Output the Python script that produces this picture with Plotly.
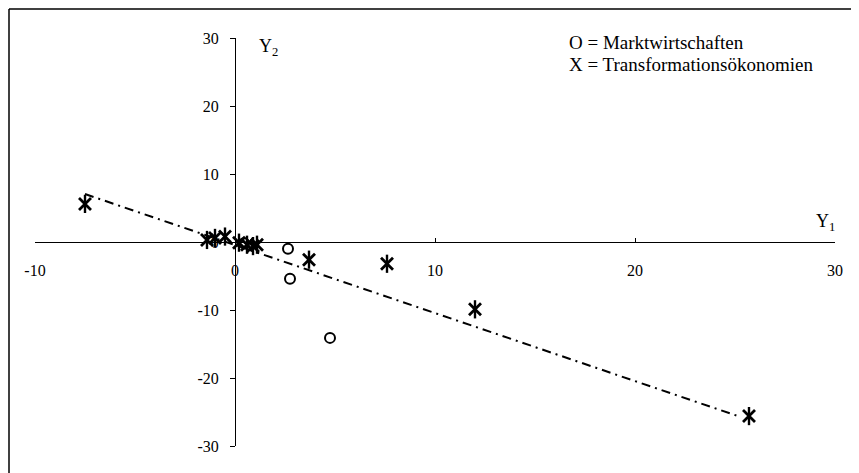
import plotly.graph_objects as go

# Data
markt_x = [0.45, 2.65, 2.75, 4.75]
markt_y = [-0.2, -1.0, -5.4, -14.1]

trans_x = [-7.5, -1.4, -1.0, -0.5, 0.2, 0.6, 0.9, 1.1, 3.7, 7.6, 12.0, 25.7]
trans_y = [5.6, 0.3, 0.6, 0.8, -0.1, -0.4, -0.6, -0.4, -2.6, -3.2, -9.9, -25.6]

trend_x = [-7.5, 25.3]
trend_intercept = -0.45
trend_slope = -1.0
trend_y = [trend_intercept + trend_slope * v for v in trend_x]

x_ticks = [-10, 0, 10, 20, 30]
y_ticks = [-30, -20, -10, 0, 10, 20, 30]

legend_lines = ["O = Marktwirtschaften", "X = Transformationsökonomien"]

FONT = "Liberation Serif"

fig = go.Figure()

fig.add_trace(go.Scatter(
    x=trend_x, y=trend_y, mode="lines",
    line=dict(color="black", width=2, dash="9px,5px,2px,5px"),
    showlegend=False, hoverinfo="skip"))

fig.add_trace(go.Scatter(
    x=markt_x, y=markt_y, mode="markers", name="Marktwirtschaften",
    marker=dict(symbol="circle-open", size=10, color="black",
                line=dict(color="black", width=2)),
    showlegend=False))

# six-armed asterisk: x-thin + vertical line
fig.add_trace(go.Scatter(
    x=trans_x, y=trans_y, mode="markers", name="Transformationsökonomien",
    marker=dict(symbol="x-thin-open", size=12, color="black",
                line=dict(color="black", width=2.8)),
    showlegend=False))
fig.add_trace(go.Scatter(
    x=trans_x, y=trans_y, mode="markers",
    marker=dict(symbol="line-ns-open", size=13, color="black",
                line=dict(color="black", width=2.4)),
    showlegend=False, hoverinfo="skip"))

fig.update_layout(
    width=859, height=473,
    margin=dict(l=27, r=32, t=30, b=35),
    paper_bgcolor="white", plot_bgcolor="white",
    font=dict(family=FONT, size=15, color="black"),
    xaxis=dict(range=[-10, 30], tickvals=x_ticks, ticktext=[str(v) for v in x_ticks],
               showgrid=False, zeroline=False, showline=True, linecolor="black",
               linewidth=1, ticks="inside", ticklen=4, tickcolor="black",
               anchor="free", position=0.5, ticklabelstandoff=14,
               tickfont=dict(family=FONT, size=16)),
    yaxis=dict(range=[-30, 30], tickvals=y_ticks, ticktext=[str(v) for v in y_ticks],
               showgrid=False, zeroline=False, showline=True, linecolor="black",
               linewidth=1, ticks="outside", ticklen=5, tickcolor="black",
               anchor="free", position=0.25, ticklabelstandoff=8,
               tickfont=dict(family=FONT, size=16)),
)

# Axis titles
fig.add_annotation(x=0, y=30, xref="x", yref="y", text="Y<sub>2</sub>",
                   showarrow=False, xanchor="left", yanchor="top",
                   xshift=22, yshift=4, font=dict(family=FONT, size=18))
fig.add_annotation(x=30, y=0, xref="x", yref="y", text="Y<sub>1</sub>",
                   showarrow=False, xanchor="right", yanchor="bottom",
                   xshift=2, yshift=6, font=dict(family=FONT, size=18))

# Legend text (two lines)
for i, line in enumerate(legend_lines):
    fig.add_annotation(x=0.665, y=0.99 - i * 0.054, xref="paper", yref="paper",
                       text=line, showarrow=False, xanchor="left", yanchor="middle",
                       align="left", font=dict(family=FONT, size=19))

# Frame (top and left edges)
fig.add_shape(type="line", xref="paper", yref="paper",
              x0=-0.0325, x1=1.03, y0=1.071, y1=1.071,
              line=dict(color="black", width=1.5))
fig.add_shape(type="line", xref="paper", yref="paper",
              x0=-0.0325, x1=-0.0325, y0=-0.07, y1=1.071,
              line=dict(color="black", width=1.5))

fig.write_html("out.html")
